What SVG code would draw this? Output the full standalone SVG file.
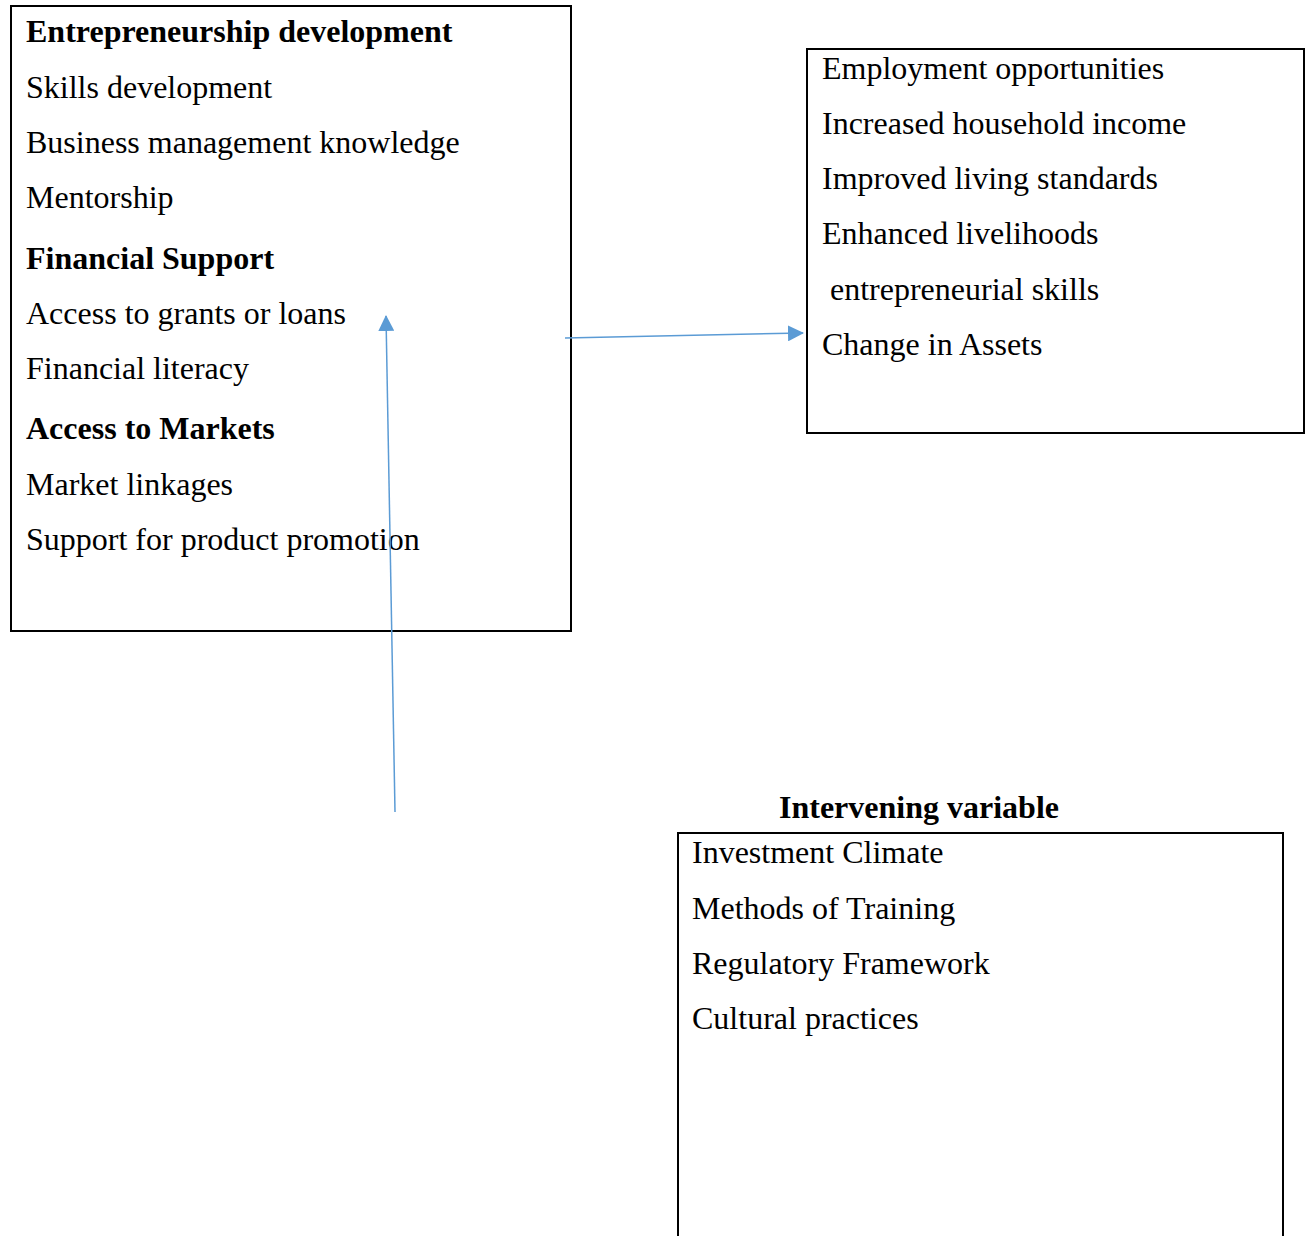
<svg xmlns="http://www.w3.org/2000/svg" width="1309" height="1236" viewBox="0 0 1309 1236">
<style>
text{font-family:"Liberation Serif","Times New Roman",serif;font-size:32px;fill:#000}
.b{font-weight:bold}
.box{fill:none;stroke:#000;stroke-width:2}
.conn{stroke:#5B9BD5;stroke-width:1.5;fill:none}
</style>
<defs>
<marker id="ah2" markerWidth="16" markerHeight="16" refX="15" refY="8" orient="auto" markerUnits="userSpaceOnUse" viewBox="0 0 16 16">
<path d="M0,0 L16,8 L0,16 z" fill="#5B9BD5"/>
</marker>
</defs>
<rect width="1309" height="1236" fill="#fff"/>
<g id="independent">
<rect class="box" x="11" y="6" width="560" height="625"/>
<text class="b" x="26" y="42">Entrepreneurship development</text>
<text x="26" y="98">Skills development</text>
<text x="26" y="153">Business management knowledge</text>
<text x="26" y="208">Mentorship</text>
<text class="b" x="26" y="269">Financial Support</text>
<text x="26" y="324">Access to grants or loans</text>
<text x="26" y="379">Financial literacy</text>
<text class="b" x="26" y="439">Access to Markets</text>
<text x="26" y="495">Market linkages</text>
<text x="26" y="550">Support for product promotion</text>
</g>
<g id="dependent">
<rect class="box" x="807" y="49" width="497" height="384"/>
<text x="822" y="79">Employment opportunities</text>
<text x="822" y="134">Increased household income</text>
<text x="822" y="189">Improved living standards</text>
<text x="822" y="244">Enhanced livelihoods</text>
<text x="830" y="300">entrepreneurial skills</text>
<text x="822" y="355">Change in Assets</text>
</g>
<g id="intervening">
<text class="b" x="779" y="818">Intervening variable</text>
<path class="box" d="M678,1240 V833 H1283 V1240"/>
<text x="692" y="863">Investment Climate</text>
<text x="692" y="919">Methods of Training</text>
<text x="692" y="974">Regulatory Framework</text>
<text x="692" y="1029">Cultural practices</text>
</g>
<g id="connectors">
<line class="conn" x1="565" y1="338" x2="803" y2="333" marker-end="url(#ah2)"/>
<line class="conn" x1="395" y1="812" x2="386" y2="316" marker-end="url(#ah2)"/>
</g>
</svg>
